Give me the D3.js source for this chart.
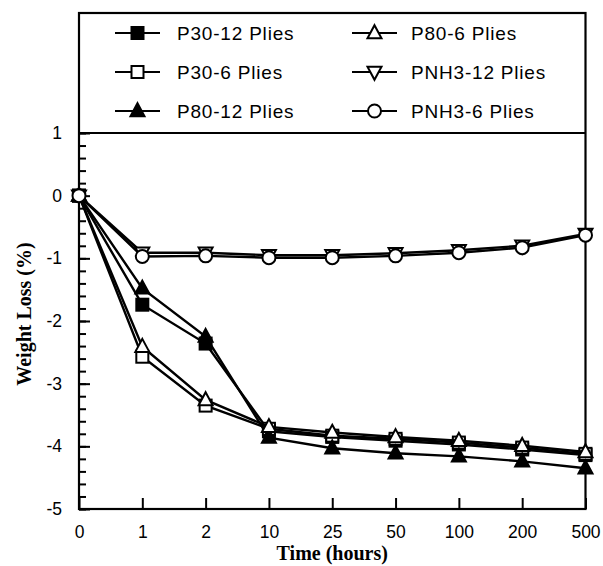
<!DOCTYPE html>
<html>
<head>
<meta charset="utf-8">
<script src="https://cdn.jsdelivr.net/npm/d3@7"></script>
<style>
  html, body { margin: 0; padding: 0; background: #fff; }
  svg { display: block; }
</style>
</head>
<body>
<div id="chart"></div>
<script>
// Exposure times (categorical axis) and weight-loss series (%)
const times = ["0", "1", "2", "10", "25", "50", "100", "200", "500"];
const seriesNames = ["P30-12 Plies", "P30-6 Plies", "P80-12 Plies", "P80-6 Plies", "PNH3-12 Plies", "PNH3-6 Plies"];
const p30_12 = [0, -1.74, -2.36, -3.76, -3.85, -3.91, -3.97, -4.05, -4.14];
const p30_6 = [0, -2.57, -3.35, -3.72, -3.83, -3.88, -3.94, -4.02, -4.12];
const p80_12 = [0, -1.48, -2.25, -3.86, -4.03, -4.11, -4.16, -4.24, -4.35];
const p80_6 = [0, -2.41, -3.26, -3.69, -3.78, -3.85, -3.91, -3.99, -4.09];
const pnh3_12 = [0, -0.91, -0.91, -0.95, -0.95, -0.92, -0.87, -0.80, -0.61];
const pnh3_6 = [0, -0.97, -0.96, -0.99, -0.99, -0.96, -0.91, -0.83, -0.63];
const yTicks = [-5, -4, -3, -2, -1, 0, 1];

const seriesValues = [p30_12, p30_6, p80_12, p80_6, pnh3_12, pnh3_6];
const markerKinds = ["squareFilled", "squareOpen", "triFilled", "triOpen", "triDownOpen", "circleOpen"];

const W = 603, H = 566;
const left = 79, right = 585.5, bottom = 509, yTop = 133, frameTop = 13;

const svg = d3.select("#chart").append("svg")
  .attr("width", W).attr("height", H);

const x = d3.scalePoint().domain(times).range([left, right]);
const y = d3.scaleLinear().domain([-5, 1]).range([bottom, yTop]);

const tickFont = "'Liberation Sans', Arial, Helvetica, sans-serif";
const titleFont = "'Liberation Serif', 'Times New Roman', serif";

// Minor y ticks every 0.2
const minorVals = d3.range(-5, 1.0001, 0.2).map(v => +v.toFixed(1));
svg.append("g")
  .attr("transform", `translate(${left},0)`)
  .call(d3.axisLeft(y).tickValues(minorVals).tickSize(-7).tickFormat(""))
  .call(g => g.select(".domain").remove())
  .call(g => g.selectAll("line").attr("stroke", "#000").attr("stroke-width", 2));

// Major y ticks with labels (plain hyphen for negatives)
svg.append("g")
  .attr("transform", `translate(${left},0)`)
  .call(d3.axisLeft(y).tickValues(yTicks).tickSize(-11).tickPadding(17).tickFormat(d => String(d)))
  .call(g => g.select(".domain").remove())
  .call(g => g.selectAll("line").attr("stroke", "#000").attr("stroke-width", 2))
  .call(g => g.selectAll("text").attr("font-family", tickFont).attr("font-size", 17.5).attr("fill", "#000"));

// X ticks and labels
svg.append("g")
  .attr("transform", `translate(0,${bottom})`)
  .call(d3.axisBottom(x).tickSize(-11).tickPadding(17))
  .call(g => g.select(".domain").remove())
  .call(g => g.selectAll("line").attr("stroke", "#000").attr("stroke-width", 2))
  .call(g => g.selectAll("text").attr("font-family", tickFont).attr("font-size", 17.5).attr("fill", "#000"));

// Frame and legend separator
svg.append("rect")
  .attr("x", left).attr("y", frameTop)
  .attr("width", right - left).attr("height", bottom - frameTop)
  .attr("fill", "none").attr("stroke", "#000").attr("stroke-width", 2.2);
svg.append("line")
  .attr("x1", left).attr("x2", right).attr("y1", y(1)).attr("y2", y(1))
  .attr("stroke", "#000").attr("stroke-width", 2.2);

// Marker drawing
function drawMarker(g, kind, cx, cy) {
  const sw = 2;
  if (kind === "squareFilled" || kind === "squareOpen") {
    const s = 12;
    g.append("rect").attr("x", cx - s / 2).attr("y", cy - s / 2).attr("width", s).attr("height", s)
      .attr("fill", kind === "squareFilled" ? "#000" : "#fff").attr("stroke", "#000").attr("stroke-width", sw);
  } else if (kind === "triFilled" || kind === "triOpen") {
    const h = 13, w = 14;
    const pts = [[cx, cy - h * 0.6], [cx + w / 2, cy + h * 0.4], [cx - w / 2, cy + h * 0.4]];
    g.append("polygon").attr("points", pts.map(p => p.join(",")).join(" "))
      .attr("fill", kind === "triFilled" ? "#000" : "#fff").attr("stroke", "#000").attr("stroke-width", sw)
      .attr("stroke-linejoin", "miter");
  } else if (kind === "triDownOpen") {
    const h = 13, w = 14;
    const pts = [[cx, cy + h * 0.6], [cx + w / 2, cy - h * 0.4], [cx - w / 2, cy - h * 0.4]];
    g.append("polygon").attr("points", pts.map(p => p.join(",")).join(" "))
      .attr("fill", "#fff").attr("stroke", "#000").attr("stroke-width", sw);
  } else {
    g.append("circle").attr("cx", cx).attr("cy", cy).attr("r", 6.5)
      .attr("fill", "#fff").attr("stroke", "#000").attr("stroke-width", sw);
  }
}

// Series: line then markers, in legend order
const line = d3.line().x((d, i) => x(times[i])).y(d => y(d));
seriesValues.forEach((vals, si) => {
  const g = svg.append("g");
  g.append("path").datum(vals).attr("d", line)
    .attr("fill", "none").attr("stroke", "#000").attr("stroke-width", 2.4);
  vals.forEach((v, i) => drawMarker(g, markerKinds[si], x(times[i]), y(v)));
});

// Legend
const legendRows = [33, 72, 111];
const legendCols = [{ x1: 115, x2: 160, tx: 177 }, { x1: 352, x2: 397, tx: 411 }];
seriesNames.forEach((name, i) => {
  const col = legendCols[Math.floor(i / 3)];
  const ry = legendRows[i % 3];
  const g = svg.append("g");
  g.append("line").attr("x1", col.x1).attr("x2", col.x2).attr("y1", ry).attr("y2", ry)
    .attr("stroke", "#000").attr("stroke-width", 2.2);
  drawMarker(g, markerKinds[i], (col.x1 + col.x2) / 2, ry);
  g.append("text").attr("x", col.tx).attr("y", ry + 6.8)
    .attr("font-family", tickFont).attr("font-size", 19).attr("letter-spacing", 0.8)
    .attr("fill", "#000").text(name);
});

// Axis titles
svg.append("text")
  .attr("x", (left + right) / 2).attr("y", 560)
  .attr("text-anchor", "middle")
  .attr("font-family", titleFont).attr("font-weight", "bold").attr("font-size", 20)
  .attr("fill", "#000").text("Time (hours)");
svg.append("text")
  .attr("transform", "translate(31,314) rotate(-90)")
  .attr("text-anchor", "middle")
  .attr("font-family", titleFont).attr("font-weight", "bold").attr("font-size", 20)
  .attr("fill", "#000").text("Weight Loss (%)");
</script>
</body>
</html>
